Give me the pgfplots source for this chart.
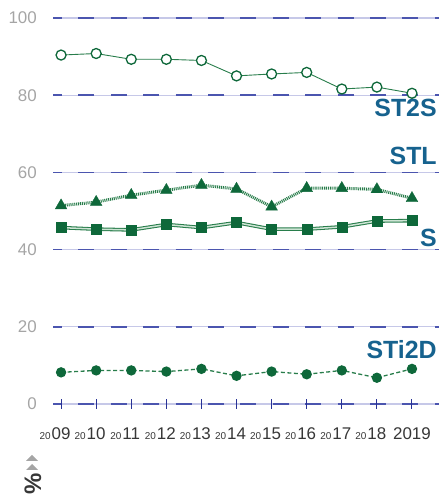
\documentclass[border=0pt]{standalone}
\usepackage{pgfplots}
\pgfplotsset{compat=1.18}
\usepackage{pgfplotstable}
\usepackage{fontspec}
\setmainfont{Liberation Sans}
\definecolor{mgreen}{RGB}{14,104,58}
\definecolor{lgreen}{RGB}{40,125,75}
\definecolor{pgreen}{RGB}{205,228,212}
\definecolor{labblue}{RGB}{22,98,142}
\definecolor{gridlight}{RGB}{198,200,232}
\definecolor{griddark}{RGB}{75,85,175}
\definecolor{tickblue}{RGB}{40,50,150}
\definecolor{labgray}{RGB}{165,165,165}
\definecolor{xgray}{RGB}{55,55,55}
\pgfplotstableread{
year val
2009 90.4
2010 90.8
2011 89.3
2012 89.3
2013 89.0
2014 85.0
2015 85.5
2016 85.9
2017 81.6
2018 82.1
2019 80.5
}\stts
\pgfplotstableread{
year val
2009 51.4
2010 52.3
2011 54.1
2012 55.4
2013 56.7
2014 55.7
2015 51.1
2016 55.9
2017 55.9
2018 55.6
2019 53.3
}\stl
\pgfplotstableread{
year val
2009 45.7
2010 45.3
2011 45.1
2012 46.5
2013 45.7
2014 47.0
2015 45.3
2016 45.3
2017 45.9
2018 47.4
2019 47.5
}\sser
\pgfplotstableread{
year val
2009 8.2
2010 8.7
2011 8.7
2012 8.4
2013 9.1
2014 7.3
2015 8.4
2016 7.7
2017 8.7
2018 6.8
2019 9.1
}\stid
\newcommand{\xl}[1]{\makebox[0pt][r]{\fontsize{10}{10}\selectfont 20\kern1bp}#1}
\begin{document}
\begin{tikzpicture}
\begin{axis}[
  at={(53bp,90bp)}, anchor=south west,
  scale only axis, width=386bp, height=386bp,
  xmin=2008.77, xmax=2019.77, ymin=0, ymax=100,
  clip=false,
  axis line style={draw=none},
  xtick={2009,2010,2011,2012,2013,2014,2015,2016,2017,2018,2019},
  xticklabels={\xl{09},\xl{10},\xl{11},\xl{12},\xl{13},\xl{14},\xl{15},\xl{16},\xl{17},\xl{18},2019},
  xtick pos=lower, ytick pos=left,
  ytick={0,20,40,60,80,100},
  yticklabels={0,20,40,60,80,100},
  ymajorgrids,
  major grid style={draw=gridlight, line width=1.3bp, postaction={draw=griddark, line width=1.7bp, dash pattern=on 16bp off 16.4bp, dash phase=7bp}},
  tick align=center,
  major tick length=10bp,
  xtick style={draw=tickblue, line width=1bp},
  ytick style={draw=none},
  yticklabel style={font=\fontsize{17}{17}\selectfont, text=labgray, anchor=east, inner sep=0pt, xshift=-11bp},
  xticklabel style={font=\fontsize{17}{17}\selectfont, text=xgray, anchor=base, inner sep=0pt, yshift=-31bp},
]
\addplot[lgreen, line width=0.9bp, mark=*, mark size=5bp, mark options={fill=white, draw=mgreen, line width=1.3bp}] table[x=year,y=val]{\stts};
\addplot[lgreen, line width=3bp, dash pattern=on 1bp off 0.9bp, mark=triangle*, mark size=6.8bp, mark options={solid, fill=mgreen, draw=mgreen, line width=0.3bp}] table[x=year,y=val]{\stl};
\addplot[lgreen, line width=3.6bp, forget plot] table[x=year,y=val]{\sser};
\addplot[pgreen, line width=1.5bp, forget plot] table[x=year,y=val]{\sser};
\addplot[draw=none, mark=square*, mark size=5bp, mark options={fill=mgreen, draw=mgreen}] table[x=year,y=val]{\sser};
\addplot[lgreen, line width=1.3bp, dash pattern=on 4bp off 2.5bp, mark=*, mark size=4.5bp, mark options={solid, fill=mgreen, draw=mgreen}] table[x=year,y=val]{\stid};
\node[anchor=east, inner sep=0pt, text=labblue, font=\bfseries\fontsize{25}{25}\selectfont] at (axis cs:2019.71,76.7) {ST2S};
\node[anchor=east, inner sep=0pt, text=labblue, font=\bfseries\fontsize{25}{25}\selectfont] at (axis cs:2019.71,64.2) {STL};
\node[anchor=east, inner sep=0pt, text=labblue, font=\bfseries\fontsize{25}{25}\selectfont] at (axis cs:2019.71,43.0) {S};
\node[anchor=east, inner sep=0pt, text=labblue, font=\bfseries\fontsize{25}{25}\selectfont] at (axis cs:2019.71,14.0) {STi2D};
\end{axis}
\fill[labgray] (26bp,33bp) -- (38bp,33bp) -- (32bp,39bp) -- cycle;
\fill[labgray] (26bp,24bp) -- (38bp,24bp) -- (32bp,30bp) -- cycle;
\node[rotate=90, inner sep=0pt, text=xgray, font=\fontsize{24}{24}\selectfont\bfseries] at (33bp,10bp) {\%};
\pgfresetboundingbox
\path (0,0) rectangle (439bp,494bp);
\end{tikzpicture}
\end{document}
